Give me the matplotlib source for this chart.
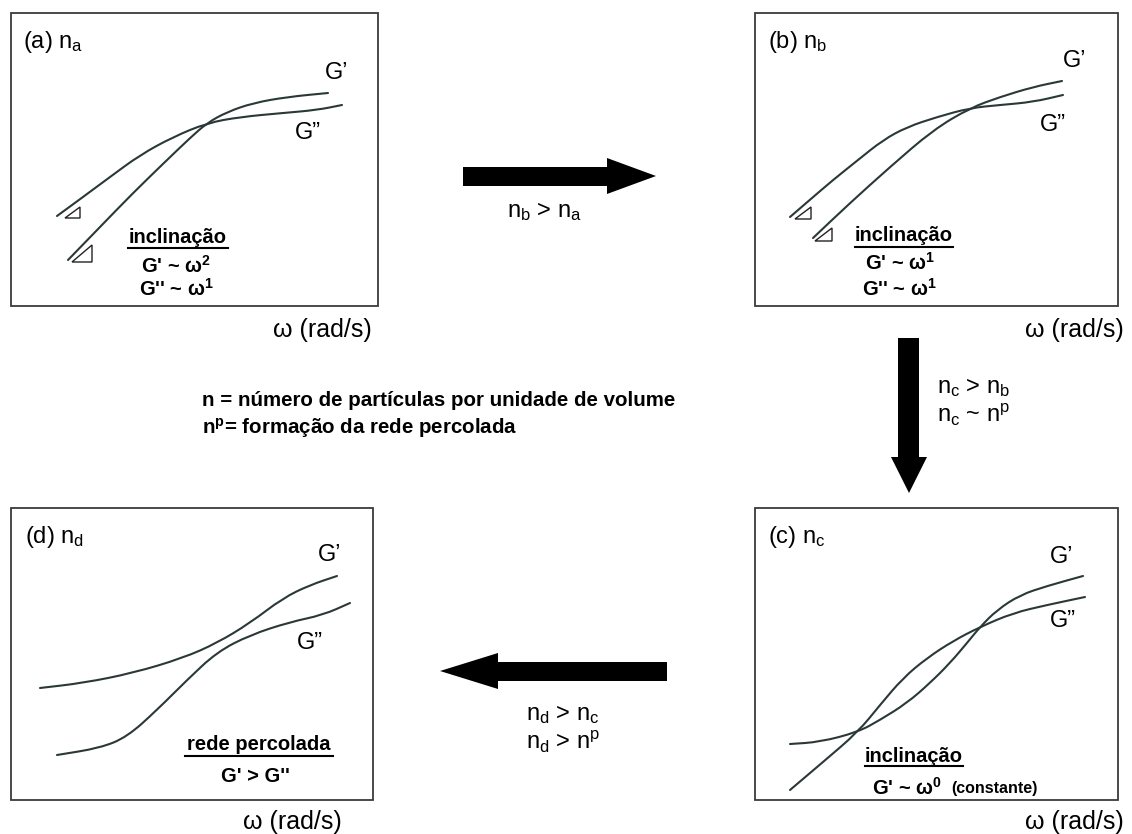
import matplotlib.pyplot as plt
from matplotlib.patches import Rectangle, Polygon, PathPatch
from matplotlib.path import Path

plt.rcParams['font.family'] = ['Liberation Sans', 'DejaVu Sans']
plt.rcParams['mathtext.fontset'] = 'custom'
plt.rcParams['mathtext.rm'] = 'Liberation Sans'
plt.rcParams['mathtext.it'] = 'Liberation Sans:italic'
plt.rcParams['mathtext.bf'] = 'Liberation Sans:bold'

# curves (pixel coords, y down)
a_g1_x = [68, 100, 133, 167, 190, 207, 227, 253, 287, 328]
a_g1_y = [260, 227, 193, 160, 138, 123, 112, 103, 97, 93]
a_g2_x = [57, 83, 110, 140, 173, 207, 240, 283, 317, 342]
a_g2_y = [216, 197, 177, 155, 137, 123, 117, 113, 110, 105]

b_g1_x = [813, 850, 890, 933, 970, 1000, 1033, 1062]
b_g1_y = [238, 203, 167, 130, 108, 97, 87, 81]
b_g2_x = [790, 812, 833, 858, 883, 907, 937, 970, 1000, 1033, 1063]
b_g2_y = [217, 198, 180, 160, 140, 127, 117, 108, 105, 102, 95]

c_g1_x = [790, 820, 858, 880, 907, 930, 950, 967, 980, 997, 1020, 1047, 1083]
c_g1_y = [744, 742, 732, 720, 703, 683, 663, 643, 627, 610, 595, 586, 576]
c_g2_x = [790, 823, 858, 880, 903, 927, 953, 980, 1013, 1047, 1085]
c_g2_y = [790, 762, 732, 705, 678, 658, 641, 627, 613, 605, 597]

d_g1_x = [40, 83, 133, 183, 217, 250, 283, 310, 337]
d_g1_y = [688, 683, 673, 658, 643, 623, 598, 585, 576]
d_g2_x = [57, 100, 127, 157, 187, 217, 250, 290, 323, 350]
d_g2_y = [755, 748, 737, 710, 680, 652, 635, 622, 615, 603]

fig = plt.figure(figsize=(11.32, 8.34), dpi=100)
ax = fig.add_axes([0, 0, 1, 1])
ax.set_xlim(0, 1132)
ax.set_ylim(834, 0)
ax.axis('off')

line_c = '#2b3838'
box_c = '#3a3a3a'


def smooth_curve(xs, ys):
    # quadratic bezier chain through the midpoints, read points as controls
    pts = list(zip(xs, ys))
    verts = [pts[0]]
    codes = [Path.MOVETO]
    verts.append(((pts[0][0] + pts[1][0]) / 2, (pts[0][1] + pts[1][1]) / 2))
    codes.append(Path.LINETO)
    for i in range(1, len(pts) - 1):
        mid = ((pts[i][0] + pts[i + 1][0]) / 2, (pts[i][1] + pts[i + 1][1]) / 2)
        verts += [pts[i], mid]
        codes += [Path.CURVE3, Path.CURVE3]
    verts.append(pts[-1])
    codes.append(Path.LINETO)
    ax.add_patch(PathPatch(Path(verts, codes), fill=False, ec=line_c, lw=1.5,
                           capstyle='round'))


# panel frames
for x0, y0, x1, y1 in [(11, 13, 378, 306), (755, 13, 1118, 306),
                       (755, 508, 1118, 800), (11, 508, 373, 800)]:
    ax.add_patch(Rectangle((x0, y0), x1 - x0, y1 - y0, fill=False,
                           ec=box_c, lw=1.3))

for xs, ys in [(a_g1_x, a_g1_y), (a_g2_x, a_g2_y), (b_g1_x, b_g1_y),
               (b_g2_x, b_g2_y), (c_g1_x, c_g1_y), (c_g2_x, c_g2_y),
               (d_g1_x, d_g1_y), (d_g2_x, d_g2_y)]:
    smooth_curve(xs, ys)

# slope triangles
for tri in [[(65, 218), (80, 218), (80, 207)], [(72, 262), (92, 262), (92, 245)],
            [(795, 219), (811, 219), (811, 207)], [(815, 241), (832, 241), (832, 228)]]:
    ax.add_patch(Polygon(tri, closed=True, fill=False, ec='#222222', lw=1))

# panel labels
fs = 17
ax.text(23, 42, '(a) n$_\\mathrm{a}$', fontsize=fs, va='center')
ax.text(768, 42, '(b) n$_\\mathrm{b}$', fontsize=fs, va='center')
ax.text(768, 537, '(c) n$_\\mathrm{c}$', fontsize=fs, va='center')
ax.text(25, 537, '(d) n$_\\mathrm{d}$', fontsize=fs, va='center')

for x, y, s in [(325, 73, 'G’'), (295, 133, 'G”'), (1063, 61, 'G’'), (1040, 125, 'G”'),
                (1050, 557, 'G’'), (1050, 621, 'G”'), (318, 555, 'G’'), (297, 643, 'G”')]:
    ax.text(x, y, s, fontsize=fs, va='center')

for x, y in [(372, 330), (1124, 330), (1124, 822), (342, 822)]:
    ax.text(x, y, 'ω (rad/s)', fontsize=18, ha='right', va='center')

# bold notes
bfs = 14.5
def note(x, y, s, size=bfs, ha='center'):
    ax.text(x, y, s, fontsize=size, fontweight='bold', ha=ha, va='center')

note(178, 237, 'inclinação')
ax.plot([128, 228], [248, 248], color='black', lw=1.5)
note(176, 266, "G' ~ ω$^{\\mathbf{2}}$")
note(176, 289, "G'' ~ ω$^{\\mathbf{1}}$")

note(904, 235, 'inclinação')
ax.plot([855, 953], [247, 247], color='black', lw=1.5)
note(900, 263, "G' ~ ω$^{\\mathbf{1}}$")
note(899, 289, "G'' ~ ω$^{\\mathbf{1}}$")

note(914, 756, 'inclinação')
ax.plot([865, 963], [766, 766], color='black', lw=1.5)
ax.text(872, 788, "G' ~ ω$^{\\mathbf{0}}$", fontsize=bfs, fontweight='bold', va='center')
ax.text(951, 789, '(constante)', fontsize=11.5, fontweight='bold', va='center')

note(259, 745, 'rede percolada')
ax.plot([185, 333], [756, 756], color='black', lw=1.5)
note(255, 776, "G' > G''")

# legend text in the middle
ax.text(202, 400, 'n = número de partículas por unidade de volume',
        fontsize=14.8, fontweight='bold', va='center')
ax.text(202, 428, 'n$^{\\mathbf{p}}$= formação da rede percolada',
        fontsize=14.8, fontweight='bold', va='center')

# arrows
ax.add_patch(Polygon([(463, 167), (607, 167), (607, 158), (656, 176), (607, 194),
                      (607, 186), (463, 186)], closed=True, fc='black', ec='none'))
ax.add_patch(Polygon([(898, 338), (919, 338), (919, 457), (927, 457), (909, 493),
                      (891, 457), (898, 457)], closed=True, fc='black', ec='none'))
ax.add_patch(Polygon([(667, 662), (498, 662), (498, 653), (440, 671), (498, 689),
                      (498, 681), (667, 681)], closed=True, fc='black', ec='none'))

afs = 17
ax.text(544, 212, 'n$_\\mathrm{b}$ > n$_\\mathrm{a}$', fontsize=afs, ha='center', va='center')
ax.text(937, 388, 'n$_\\mathrm{c}$ > n$_\\mathrm{b}$', fontsize=afs, va='center')
ax.text(937, 415, 'n$_\\mathrm{c}$ ~ n$^\\mathrm{p}$', fontsize=afs, va='center')
ax.text(526, 715, 'n$_\\mathrm{d}$ > n$_\\mathrm{c}$', fontsize=afs, va='center')
ax.text(526, 742, 'n$_\\mathrm{d}$ > n$^\\mathrm{p}$', fontsize=afs, va='center')

fig.savefig('out.png', dpi=100, facecolor='white')
